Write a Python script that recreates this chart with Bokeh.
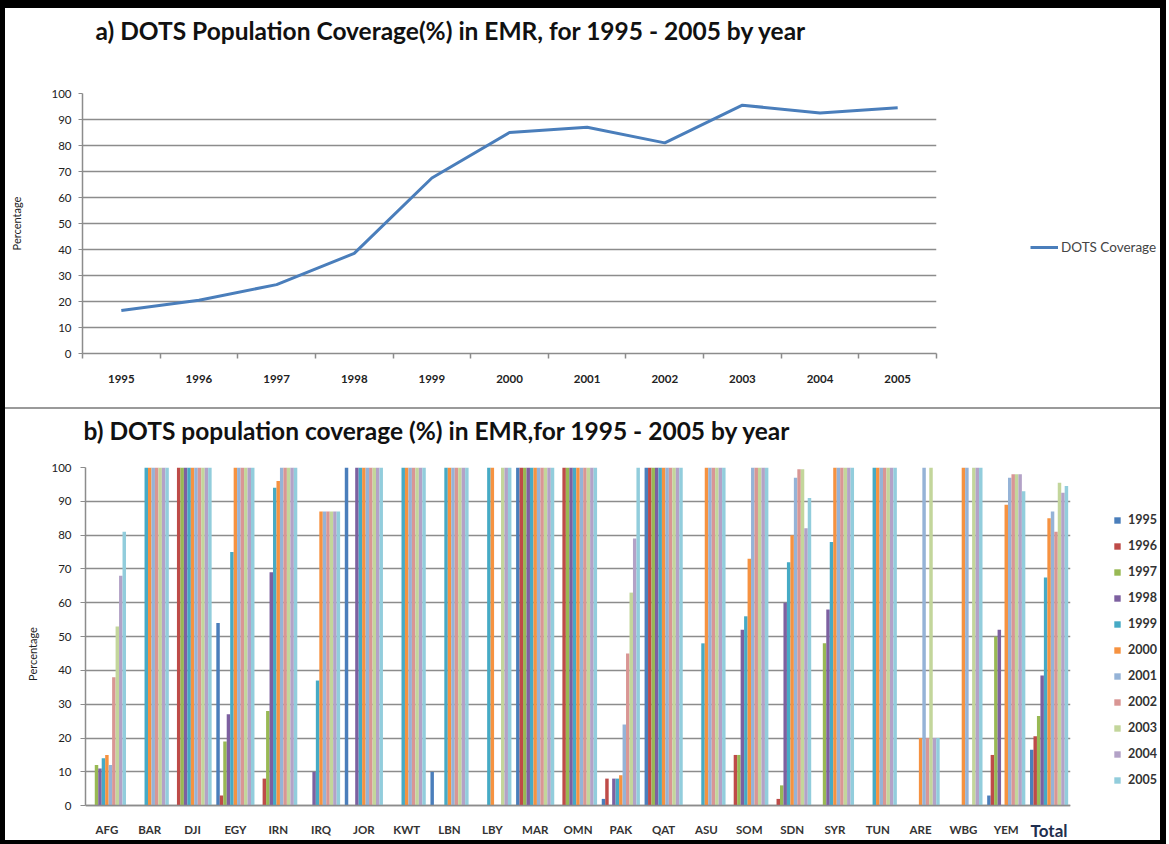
from bokeh.plotting import figure
from bokeh.models import FixedTicker, Legend, LegendItem, Label, Div, Range1d, Title
from bokeh.layouts import column, row
from bokeh.embed import file_html
from bokeh.resources import INLINE

FONT = "Lato"
NAN = float("nan")

# ---------------- data ----------------
years = [1995, 1996, 1997, 1998, 1999, 2000, 2001, 2002, 2003, 2004, 2005]
coverage = [16.5, 20.5, 26.5, 38.5, 67.5, 85, 87, 81, 95.5, 92.5, 94.5]

countries = ["AFG", "BAR", "DJI", "EGY", "IRN", "IRQ", "JOR", "KWT", "LBN", "LBY",
             "MAR", "OMN", "PAK", "QAT", "ASU", "SOM", "SDN", "SYR", "TUN", "ARE",
             "WBG", "YEM", "Total"]

v1995 = [0, 0, 0, 54, 0, 0, 100, 0, 10, 0, 100, 0, 2, 100, 0, 0, 0, 0, 0, 0, 0, 3, 16.5]
v1996 = [0, 0, 100, 3, 8, 0, 0, 0, 0, 0, 100, 100, 8, 100, 0, 15, 2, 0, 0, 0, 0, 15, 20.5]
v1997 = [12, 0, 100, 19, 28, 0, 0, 0, 0, 0, 100, 100, 0, 100, 0, 15, 6, 48, 0, 0, 0, 50, 26.5]
v1998 = [11, 0, 100, 27, 69, 10, 100, 0, 0, 0, 100, 100, 8, 100, 0, 52, 60, 58, 0, 0, 0, 52, 38.5]
v1999 = [14, 100, 100, 75, 94, 37, 100, 100, 100, 100, 100, 100, 8, 100, 48, 56, 72, 78, 100, 0, 0, 0, 67.5]
v2000 = [15, 100, 100, 100, 96, 87, 100, 100, 100, 100, 100, 100, 9, 100, 100, 73, 80, 100, 100, 20, 100, 89, 85]
v2001 = [12, 100, 100, 100, 100, 87, 100, 100, 100, 0, 100, 100, 24, 100, 100, 100, 97, 100, 100, 100, 100, 97, 87]
v2002 = [38, 100, 100, 100, 100, 87, 100, 100, 100, 0, 100, 100, 45, 100, 100, 100, 99.5, 100, 100, 20, 0, 98, 81]
v2003 = [53, 100, 100, 100, 100, 87, 100, 100, 100, 100, 100, 100, 63, 100, 100, 100, 99.5, 100, 100, 100, 100, 98, 95.5]
v2004 = [68, 100, 100, 100, 100, 87, 100, 100, 100, 100, 100, 100, 79, 100, 100, 100, 82, 100, 100, 20, 100, 98, 92.5]
v2005 = [81, 100, 100, 100, 100, 87, 100, 100, 100, 100, 100, 100, 100, 100, 100, 100, 91, 100, 100, 20, 100, 93, 94.5]

series = [v1995, v1996, v1997, v1998, v1999, v2000, v2001, v2002, v2003, v2004, v2005]
year_labels = [str(y) for y in years]
y_ticks = [0, 10, 20, 30, 40, 50, 60, 70, 80, 90, 100]

colors = ["#4a7ebb", "#be4b48", "#98b954", "#7d60a0", "#46aac5", "#f69240",
          "#95b3d7", "#d99694", "#c3d69b", "#b3a2c7", "#92cddc"]

GRID = "#8c8c8c"
W = 1155      # inner width of the framed page
H1 = 399      # top panel height
H2 = 431      # bottom panel height


def legend_fig(w, h):
    f = figure(width=w, height=h, output_backend="svg", toolbar_location=None,
               x_range=Range1d(0, 1), y_range=Range1d(0, 1),
               x_axis_type=None, y_axis_type=None, min_border=0)
    f.outline_line_color = None
    f.frame_align = False
    return f


def style_title(p, text, offset, spacer):
    p.title.text = text
    p.title.text_font = FONT
    p.title.text_font_size = "24.5px"
    p.title.text_font_style = "bold"
    p.title.text_color = "#111111"
    p.title.align = "left"
    p.title.vertical_align = "middle"
    p.title.offset = offset
    p.title.standoff = 8
    p.add_layout(Title(text=" ", text_font_size="1px", standoff=spacer), "above")


# ---------------- top: line chart ----------------
W1 = 985
p1 = figure(width=W1, height=H1, output_backend="svg", toolbar_location=None,
            x_range=Range1d(years[0] - 0.5, years[-1] + 0.5), y_range=Range1d(0, 100),
            min_border_left=77, min_border_right=W1 - 931, min_border_top=85, min_border_bottom=54)
p1.frame_align = False
p1.outline_line_color = None
style_title(p1, "a) DOTS Population Coverage(%) in EMR, for  1995 - 2005 by year", 13, 41)

p1.line(years, coverage, line_width=3, color="#4a7ebb")

p1.xaxis.ticker = FixedTicker(ticks=years, minor_ticks=[y - 0.5 for y in years] + [years[-1] + 0.5])
p1.xaxis.major_tick_out = 0
p1.xaxis.major_tick_in = 0
p1.xaxis.minor_tick_out = 5
p1.xaxis.minor_tick_in = 0
p1.xaxis.minor_tick_line_color = GRID
p1.xaxis.minor_tick_line_width = 1.5
p1.xaxis.major_label_standoff = 16
p1.xaxis.axis_line_color = GRID
p1.xaxis.axis_line_width = 1.5
p1.xaxis.major_label_text_font = FONT
p1.xaxis.major_label_text_font_style = "bold"
p1.xaxis.major_label_text_font_size = "11.5px"
p1.xaxis.major_label_text_color = "#222222"

p1.yaxis.ticker = FixedTicker(ticks=y_ticks)
p1.yaxis.minor_tick_line_color = None
p1.yaxis.major_tick_out = 4
p1.yaxis.major_tick_in = 0
p1.yaxis.major_tick_line_color = GRID
p1.yaxis.axis_line_color = GRID
p1.yaxis.axis_line_width = 1.5
p1.yaxis.major_label_standoff = 7
p1.yaxis.major_label_text_font = FONT
p1.yaxis.major_label_text_font_size = "11.5px"
p1.yaxis.major_label_text_color = "#222222"
p1.yaxis.axis_label = "Percentage"
p1.yaxis.axis_label_text_font = FONT
p1.yaxis.axis_label_text_font_size = "11px"
p1.yaxis.axis_label_text_font_style = "normal"
p1.yaxis.axis_label_text_color = "#222222"
p1.yaxis.axis_label_standoff = 25

p1.xgrid.grid_line_color = None
p1.ygrid.grid_line_color = GRID
p1.ygrid.grid_line_width = 1.5

lf1 = legend_fig(W - W1, H1)
key_line = lf1.line(x=[NAN], y=[NAN], line_width=3, color="#4a7ebb")
leg1 = Legend(items=[LegendItem(label="DOTS Coverage", renderers=[key_line])],
              location=(40, 150), padding=0, margin=0, border_line_color=None,
              background_fill_alpha=0, glyph_width=28, label_text_font=FONT,
              label_text_font_size="13.5px", label_height=20, label_standoff=3)
lf1.add_layout(leg1)

# separator
sep = Div(width=W, height=2, margin=0,
          styles={"background-color": "#9a9a9a", "font-size": "0px", "line-height": "0px",
                  "overflow": "hidden"})

# ---------------- bottom: clustered bars ----------------
n = len(countries)
centers = [i + 0.5 for i in range(n)]
bw = 0.081
W2 = 1075

p2 = figure(width=W2, height=H2, output_backend="svg", toolbar_location=None,
            x_range=Range1d(0, n), y_range=Range1d(-10.3, 100),
            min_border_left=80, min_border_right=10, min_border_top=58, min_border_bottom=0)
p2.frame_align = False
p2.outline_line_color = None
style_title(p2, "b) DOTS population coverage (%) in EMR,for  1995 - 2005 by year", -2, 15)

p2.xgrid.grid_line_color = None
p2.ygrid.grid_line_color = GRID
p2.ygrid.grid_line_width = 1.5
p2.ygrid.ticker = FixedTicker(ticks=y_ticks)

for j, vals in enumerate(series):
    xs = [c + (j - 5) * bw for c in centers]
    p2.vbar(x=xs, top=vals, width=bw, bottom=0, fill_color=colors[j], line_color=None)

p2.xaxis.fixed_location = 0
p2.xaxis.ticker = FixedTicker(ticks=centers)
p2.xaxis.major_label_overrides = {c: (lab if lab != "Total" else "") for c, lab in zip(centers, countries)}
p2.xaxis.major_tick_line_color = None
p2.xaxis.minor_tick_line_color = None
p2.xaxis.major_label_standoff = 11
p2.xaxis.axis_line_color = GRID
p2.xaxis.axis_line_width = 1.5
p2.xaxis.major_label_text_font = FONT
p2.xaxis.major_label_text_font_style = "bold"
p2.xaxis.major_label_text_font_size = "11.5px"
p2.xaxis.major_label_text_color = "#333333"

p2.yaxis.ticker = FixedTicker(ticks=y_ticks)
p2.yaxis.bounds = (0, 100)
p2.yaxis.minor_tick_line_color = None
p2.yaxis.major_tick_out = 5
p2.yaxis.major_tick_in = 0
p2.yaxis.major_tick_line_color = GRID
p2.yaxis.axis_line_color = GRID
p2.yaxis.axis_line_width = 1.5
p2.yaxis.major_label_standoff = 9
p2.yaxis.major_label_text_font = FONT
p2.yaxis.major_label_text_font_size = "11.5px"
p2.yaxis.major_label_text_color = "#222222"
p2.yaxis.axis_label = "Percentage"
p2.yaxis.axis_label_text_font = FONT
p2.yaxis.axis_label_text_font_size = "11px"
p2.yaxis.axis_label_text_font_style = "normal"
p2.yaxis.axis_label_text_color = "#222222"
p2.yaxis.axis_label_standoff = 9

p2.add_layout(Label(x=centers[-1], y=-7.4, text=countries[-1], text_align="center",
                    text_baseline="middle", text_font=FONT, text_font_size="17px",
                    text_font_style="bold", text_color="#1f2f4f"))

lf2 = legend_fig(W - W2, H2)
keys = [lf2.vbar(x=[NAN], top=[NAN], width=0.1, fill_color=colors[j], line_color=None)
        for j in range(len(years))]
leg2 = Legend(items=[LegendItem(label=year_labels[j], renderers=[keys[j]]) for j in range(len(years))],
              location=(33, 50), padding=0, margin=0,
              border_line_color=None, background_fill_alpha=0,
              glyph_width=8, glyph_height=8, label_height=21, spacing=5,
              label_standoff=7, label_text_font=FONT, label_text_font_size="12.5px",
              label_text_font_style="bold", label_text_color="#333333")
lf2.add_layout(leg2)

page = column(row(p1, lf1), sep, row(p2, lf2),
              styles={"border-style": "solid", "border-color": "black",
                      "border-width": "8px 6px 4px 5px", "background-color": "white"})

open("out.html", "w").write(file_html(page, INLINE))
